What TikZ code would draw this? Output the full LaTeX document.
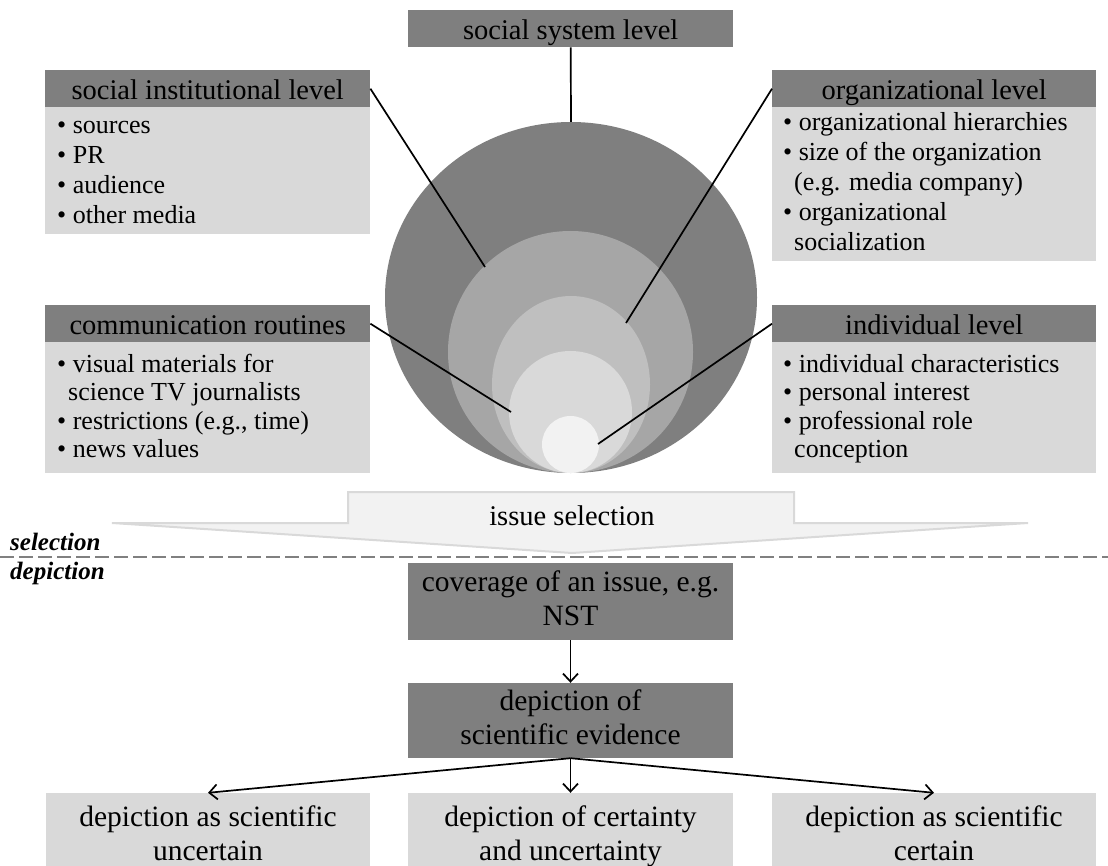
\documentclass[tikz,border=0pt]{standalone}
\usepackage{fontspec}
\setmainfont{Liberation Serif}
\usetikzlibrary{arrows.meta,shapes.geometric}
\definecolor{dk}{HTML}{7F7F7F}
\definecolor{lt}{HTML}{D9D9D9}
\definecolor{ca}{HTML}{A6A6A6}
\definecolor{cb}{HTML}{BFBFBF}
\definecolor{cc}{HTML}{D9D9D9}
\definecolor{cd}{HTML}{F2F2F2}
\begin{document}
\begin{tikzpicture}[x=1pt,y=-1pt,
  hdr/.style={fill=dk, inner sep=0pt, anchor=north west, minimum width=325pt, minimum height=37pt,
    text height=24pt, text depth=2pt, font=\fontsize{28.5}{32}\selectfont},
  bdy/.style={fill=lt, inner sep=0pt, anchor=north west, minimum width=325pt},
  btxt/.style={anchor=north west, inner sep=0pt, align=left},
  ring/.style={shape=ellipse, inner sep=0pt, draw=none},
  dbox/.style={fill=dk, inner sep=0pt, minimum width=325pt, align=center, font=\fontsize{29.5}{34.5}\selectfont},
  lbox/.style={fill=lt, inner sep=0pt, minimum width=324pt, minimum height=87pt, align=center, font=\fontsize{29.5}{34.5}\selectfont},
  conn/.style={line width=1.7pt, black},
  arr/.style={conn, -{Straight Barb[length=8pt,width=15pt]}},
  side/.style={font=\fontsize{25}{30}\selectfont\bfseries\itshape, inner sep=0pt, anchor=base west}
]
\useasboundingbox (0,0) rectangle (1108,866);
\clip (0,0) rectangle (1108,866);

% nested circles
\node[ring, fill=dk, minimum width=372pt, minimum height=351pt] (c1) at (571,297.5) {};
\node[ring, fill=ca, minimum width=245pt, minimum height=242pt] (c2) at (570.5,352) {};
\node[ring, fill=cb, minimum width=158pt, minimum height=177pt] (c3) at (571,384.5) {};
\node[ring, fill=cc, minimum width=123pt, minimum height=122pt] (c4) at (570.5,412) {};
\node[ring, fill=cd, minimum width=57pt, minimum height=57pt] (c5) at (570.5,444.5) {};

% social system level
\node[hdr] (ssl) at (408,10) {social system level};

% social institutional level
\node[bdy, minimum height=127pt] (silb) at (45,107) {};
\node[hdr] (sil) at (45,70) {social institutional level};
\node[btxt, font=\fontsize{26}{30}\selectfont] (silt) at (57,112)
  {\strut\textbullet\ sources\\\strut\textbullet\ PR\\\strut\textbullet\ audience\\\strut\textbullet\ other media};

% organizational level
\node[bdy, minimum width=324pt, minimum height=154pt] (orgb) at (772,107) {};
\node[hdr, minimum width=324pt] (org) at (772,70) {organizational level};
\node[btxt, font=\fontsize{26}{30}\selectfont] (orgt) at (783,109)
  {\strut\textbullet\ organizational hierarchies\\\strut\textbullet\ size of the organization\\\strut\hspace*{11pt}(e.g. media company)\\\strut\textbullet\ organizational\\\strut\hspace*{11pt}socialization};

% communication routines
\node[bdy, minimum height=131pt] (comb) at (45,342) {};
\node[hdr] (com) at (45,305) {communication routines};
\node[btxt, font=\fontsize{26}{28.5}\selectfont] (comt) at (57,352)
  {\strut\textbullet\ visual materials for\\\strut\hspace*{11pt}science TV journalists\\\strut\textbullet\ restrictions (e.g., time)\\\strut\textbullet\ news values};

% individual level
\node[bdy, minimum width=324pt, minimum height=131pt] (indb) at (772,342) {};
\node[hdr, minimum width=324pt] (ind) at (772,305) {individual level};
\node[btxt, font=\fontsize{26}{28.5}\selectfont] (indt) at (783,352)
  {\strut\textbullet\ individual characteristics\\\strut\textbullet\ personal interest\\\strut\textbullet\ professional role\\\strut\hspace*{11pt}conception};

% connector end points
\coordinate (p1) at (485,267);
\coordinate (p2) at (626,323);
\coordinate (p3) at (511,412);
\coordinate (p4) at (598,444);

\draw[conn] (ssl.south) -- (c1.north);
\draw[conn] (sil.east) -- (p1);
\draw[conn] (org.west) -- (p2);
\draw[conn] (com.east) -- (p3);
\draw[conn] (ind.west) -- (p4);

% issue selection arrow
\draw[fill=cd, draw=lt, line width=2pt, line join=miter]
  (348,492) -- (794,492) -- (794,523) -- (1028,523) -- (572,553) -- (112,523) -- (348,523) -- cycle;
\node[font=\fontsize{28.5}{34}\selectfont, inner sep=0pt, anchor=base] (iss) at (572,525) {issue selection};

% dashed separator
\coordinate (dl) at (0,557);
\coordinate (dr) at (1108,557);
\draw[gray, line width=1.3pt, dash pattern=on 14pt off 5pt] (dl) -- (dr);
\node[side] (sel) at (10,550) {selection};
\node[side] (dep) at (10,579) {depiction};

% lower flow
\node[dbox, minimum height=77pt] (cov) at (570.5,601.5) {\strut coverage of an issue, e.g.\\\strut NST};
\node[dbox, minimum height=75pt] (evi) at (570.5,720.5) {\strut depiction of\\\strut scientific evidence};

\node[lbox] (unc) at (208,836.5) {\strut depiction as scientific\\\strut uncertain};
\node[lbox, minimum width=325pt] (both) at (570.5,836.5) {\strut depiction of certainty\\\strut and uncertainty};
\node[lbox] (cer) at (934,836.5) {\strut depiction as scientific\\\strut certain};

\draw[arr] (cov.south) -- (evi.north);
\draw[arr] (evi.south) -- (unc.north);
\draw[arr] (evi.south) -- (both.north);
\draw[arr] (evi.south) -- (cer.north);
\end{tikzpicture}
\end{document}
